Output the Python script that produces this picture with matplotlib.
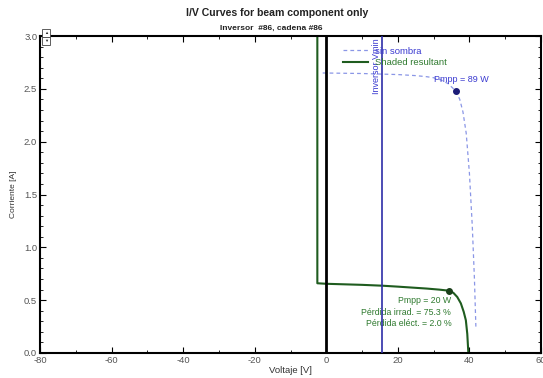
import matplotlib
matplotlib.use("Agg")
import matplotlib.pyplot as plt
from matplotlib.patches import Rectangle
from matplotlib.lines import Line2D
import numpy as np

plt.rcParams["font.family"] = ["Liberation Sans", "DejaVu Sans"]

# Curve data
shaded_v = [-2.5, -2.5, 0.0, 10.0, 15.6, 20.0, 28.0, 31.5, 34.2, 35.5, 36.6, 37.6, 38.4, 39.0, 39.4, 39.7]
shaded_i = [3.10, 0.66, 0.655, 0.645, 0.637, 0.628, 0.610, 0.600, 0.590, 0.570, 0.530, 0.470, 0.390, 0.310, 0.180, 0.0]

clear_v = [-1.0, 10.0, 20.0, 25.0, 28.0, 30.0, 32.0, 34.0, 36.2, 37.3, 38.2, 39.1, 40.0, 40.8, 41.4, 41.8]
clear_i = [2.65, 2.645, 2.635, 2.625, 2.615, 2.605, 2.585, 2.55, 2.48, 2.40, 2.28, 2.08, 1.70, 1.20, 0.70, 0.25]

mpp_clear = (36.2, 2.48, 89)
mpp_shaded = (34.2, 0.59, 20)
loss_irrad = 75.3
loss_elec = 2.0
vmin_inv = 15.6

x_ticks = [-80, -60, -40, -20, 0, 20, 40, 60]
y_ticks = [0.0, 0.5, 1.0, 1.5, 2.0, 2.5, 3.0]

GREEN = "#1f5c1f"
GREEN_TXT = "#2f7a2f"
BLUE_DASH = "#8a96e6"
BLUE_TXT = "#3a3ad0"
NAVY = "#2e2ea8"

fig = plt.figure(figsize=(5.43, 3.78), dpi=100)
ax = fig.add_axes([40 / 543, 25 / 378, 501 / 543, 317 / 378])

ax.plot(clear_v, clear_i, ls=(0, (3, 2.5)), color=BLUE_DASH, lw=0.9)
ax.plot(shaded_v, shaded_i, color=GREEN, lw=1.5)
ax.axvline(0, color="black", lw=2.0, zorder=3)
ax.axvline(vmin_inv, color=NAVY, lw=1.2, zorder=4)
ax.text(vmin_inv - 0.4, 2.98, "Inversor Vmin", rotation=90, ha="right", va="top",
        fontsize=6.5, color=BLUE_TXT, zorder=5)

ax.plot([mpp_clear[0]], [mpp_clear[1]], "o", color="#1c1c78", ms=4, zorder=5)
ax.plot([mpp_shaded[0]], [mpp_shaded[1]], "o", color="#1a3f1a", ms=4, zorder=5)
ax.text(mpp_clear[0] + 1.5, mpp_clear[1] + 0.11, f"Pmpp = {mpp_clear[2]} W",
        ha="center", va="center", fontsize=6.5, color=BLUE_TXT)
ax.text(34.9, 0.535, f"Pmpp = {mpp_shaded[2]} W\nPérdida irrad. = {loss_irrad:.1f} %\n"
        f"Pérdida eléct. = {loss_elec:.1f} %",
        ha="right", va="top", fontsize=6.3, color=GREEN_TXT, linespacing=1.35,
        multialignment="right")

ax.set_xlim(-80, 60)
ax.set_ylim(0, 3.0)
ax.set_xticks(x_ticks)
ax.set_yticks(y_ticks)
ax.set_xticklabels([str(t) for t in x_ticks])
ax.set_yticklabels([f"{t:.1f}" for t in y_ticks])
ax.set_xticks(np.arange(-70, 60, 20), minor=True)
ax.set_yticks(np.arange(0, 3.01, 0.1), minor=True)
ax.tick_params(which="both", direction="in", top=True, right=True,
               labelsize=6.8, labelcolor="#555555", pad=2)
ax.tick_params(which="major", length=4, width=0.8)
ax.tick_params(which="minor", length=2.5, width=0.6)
for sp in ax.spines.values():
    sp.set_linewidth(1.5)

ax.set_xlabel("Voltaje [V]", fontsize=6.8, color="#333333", labelpad=1)
ax.set_ylabel("Corriente [A]", fontsize=6, color="#333333", labelpad=5)

handles = [Line2D([], [], ls=(0, (3, 2.5)), color=BLUE_DASH, lw=0.9),
           Line2D([], [], color=GREEN, lw=1.5)]
leg = ax.legend(handles, ["sin sombra", "Shaded resultant"], frameon=False,
                loc="upper left", bbox_to_anchor=(299 / 501, 1 - 7 / 317),
                fontsize=6.8, handlelength=2.7, handletextpad=0.75, labelspacing=0.25,
                borderaxespad=0)
leg.get_texts()[0].set_color(BLUE_TXT)
leg.get_texts()[1].set_color(GREEN_TXT)

fig.text(277 / 543, 1 - 13 / 378, "I/V Curves for beam component only",
         ha="center", va="center", fontsize=7.6, fontweight="bold", color="#222222")
fig.text(0.5, 1 - 28 / 378, "Inversor  #86, cadena #86",
         ha="center", va="center", fontsize=6, fontweight="bold", color="#222222")

# small scroll widget at top-left corner
for y0, mark in [(29, "▲"), (37, "▼")]:
    fig.patches.append(Rectangle((42 / 543, 1 - (y0 + 8) / 378), 8 / 543, 8 / 378,
                                 transform=fig.transFigure, fill=True, facecolor="white",
                                 edgecolor="#444444", lw=0.6, zorder=10))
    fig.text(46 / 543, 1 - (y0 + 4) / 378, mark, ha="center", va="center",
             fontsize=3, color="#222222", zorder=11)

fig.savefig("out.png", dpi=100)
